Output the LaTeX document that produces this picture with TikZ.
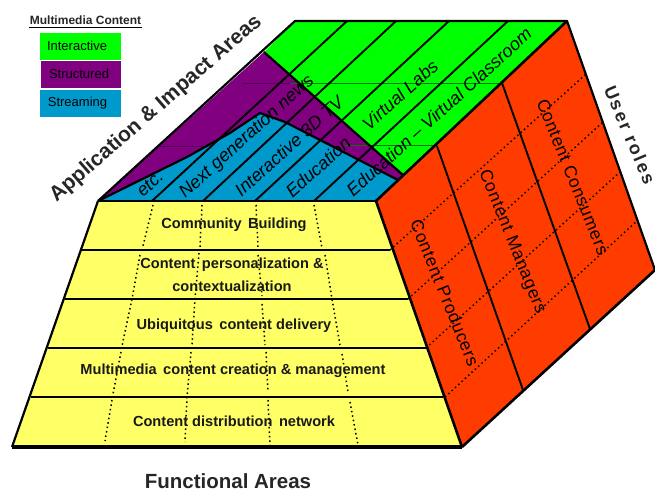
\documentclass[tikz,border=0pt]{standalone}
\usepackage{fontspec}
\setmainfont{Liberation Sans}
\definecolor{cyel}{HTML}{FFFF66}
\definecolor{cgrn}{HTML}{00FF00}
\definecolor{cpur}{HTML}{800080}
\definecolor{cblu}{HTML}{0099CC}
\definecolor{cred}{HTML}{FF3C00}
\tikzset{
  edgeline/.style={draw=black,line width=2.2pt,line join=round},
  thinsolid/.style={draw=black,line width=1.9pt},
  dotline/.style={draw=black,line width=1.5pt,dash pattern=on 1.5pt off 3pt},
  bandtext/.style={font=\bfseries\fontsize{14.6}{14.6}\selectfont,text=black!90,inner sep=0pt},
  diagtext/.style={font=\itshape\fontsize{18}{18}\selectfont,rotate=42,inner sep=0pt},
  roletext/.style={font=\fontsize{17.5}{17.5}\addfontfeatures{LetterSpace=4}\selectfont,rotate=-68,inner sep=0pt},
  titletext/.style={font=\bfseries\fontsize{20.5}{20.5}\selectfont,text=black!85,inner sep=0pt},
  legtext/.style={font=\fontsize{13}{13}\selectfont,inner sep=0pt},
}
\begin{document}
\begin{tikzpicture}[x=1pt,y=-1pt]
\useasboundingbox (0,0) rectangle (655,492);
% corners
\coordinate (YTL) at (98,201); \coordinate (YTR) at (376,201);
\coordinate (YBL) at (12,447); \coordinate (YBR) at (462,447);
\coordinate (RTR) at (567,21); \coordinate (RBR) at (655,270);
\coordinate (GTL) at (295,21); \coordinate (PT) at (264,52);
\coordinate (PR) at (403,175);
% faces
\fill[cpur] (YTL) -- (PT) -- (PR) -- (YTR) -- cycle;
\fill[cgrn] (GTL) -- (RTR) -- (PR) -- (PT) -- cycle;
\fill[cblu] (YTL) -- (187,157) -- (230,133) -- (260,113) -- (285,122) -- (398,180) -- (YTR) -- cycle;
\fill[cyel] (YTL) -- (YTR) -- (YBR) -- (YBL) -- cycle;
\fill[cred] (YTR) -- (RTR) -- (RBR) -- (YBR) -- cycle;
% faint horizontal seams
\draw[black!55!cgrn,line width=.6pt] (290,83) -- (502,83);
\draw[black!55!cgrn,line width=.6pt] (345,145) -- (437,145);
\draw[black!35!cpur,line width=.6pt] (243,83) -- (290,83);
\draw[black!35!cpur,line width=.6pt] (160,146) -- (205,146);
% top edges
\draw[edgeline] (PT) -- (PR);
\draw[edgeline] (YTL) -- (187,157) -- (230,133) -- (260,113) -- (285,122) -- (398,180);
% diagonals
\foreach \a/\b/\n in {152/347/a,203/396/b,255/449/c,314/508/d}{
  \coordinate (dl\n) at (\a,201); \coordinate (dt\n) at (\b,21);
  \draw[thinsolid] (dl\n) -- (dt\n);
}
\draw[edgeline] (YTL) -- (GTL) -- (RTR) -- (RBR);
% red face grid
\foreach \a/\b/\c/\d in {390/250/585/75,408/299/603/122,426/348/620/172,445/397/638/220}{
  \draw[dotline] (\a,\b) -- (\c,\d);
}
\draw[thinsolid] (437,146) -- (523,390);
\draw[thinsolid] (502,83) -- (590,329);
% yellow bands
\foreach \a/\b/\y in {81/390/250,65/408/299,48/426/348,31/443/397}{
  \draw[line width=2.4pt] (\a,\y) -- (\b,\y);
}
% dotted columns on yellow
\draw[dotline] (153,205) -- (143,246);
\draw[dotline] (140,255) -- (132,299) -- (122,346);
\draw[dotline] (121,352) -- (113,394);
\draw[dotline] (112,400) -- (105,441);
\draw[dotline] (202,205) -- (200,247);
\draw[dotline] (199,253) -- (195,299) -- (192,345);
\draw[dotline] (191,352) -- (187,397) -- (185,442);
\draw[dotline] (256,205) -- (258,247);
\draw[dotline] (258,255) -- (262,296);
\draw[dotline] (262,304) -- (265,345);
\draw[dotline] (266,352) -- (268,392);
\draw[dotline] (268,400) -- (270,445);
\draw[dotline] (314,205) -- (322,248);
\draw[dotline] (325,255) -- (332,299) -- (340,345);
\draw[dotline] (342,354) -- (348,392);
\draw[dotline] (350,402) -- (358,445);
% outlines
\draw[line width=2.8pt] (YTL) -- (YTR);
\draw[edgeline] (YTL) -- (YBL);
\draw[line width=4pt] (YBL) -- (YBR);
\draw[edgeline,line width=2.6pt] (YBR) -- (YTR) -- (RTR);
\draw[edgeline,line width=2.6pt] (YBR) -- (RBR);
% texts on yellow
\node[bandtext] (t1) at (234,224.5) {Community\, Building};
\node[bandtext] (t2) at (232,265) {Content\, personalization \&};
\node[bandtext] (t3) at (232,286) {contextualization};
\node[bandtext] (t4) at (234,325.5) {Ubiquitous\, content delivery};
\node[bandtext] (t5) at (233,371) {Multimedia\, content creation \& management};
\node[bandtext] (t6) at (234,421) {Content distribution\, network};
% texts on top
\node[diagtext] (d1) at (150,184) {etc.};
\node[diagtext] (d2) at (247,137) {Next generation news};
\node[diagtext] (d3) at (289,146) {Interactive 3D TV};
\node[diagtext] (d4) at (318,167) {Education};
\node[diagtext] (d5) at (400,95) {Virtual Labs};
\node[diagtext] (d6) at (439,112) {Education -- Virtual Classroom};
% texts on red
\node[roletext] (r1) at (445,293) {Content Producers};
\node[roletext] (r2) at (512,242) {Content Managers};
\node[roletext] (r3) at (573,177) {Content Consumers};
% titles
\node[titletext,font=\bfseries\fontsize{21}{21}\selectfont,rotate=41] (ta) at (156,109) {Application \& Impact Areas};
\node[titletext] (tb) at (228,481) {Functional Areas};
\node[titletext,font=\bfseries\fontsize{18}{18}\addfontfeatures{LetterSpace=12}\selectfont,rotate=-67] (tc) at (630,135) {User roles};
% legend
\node[font=\bfseries\fontsize{12}{12}\selectfont,inner sep=0pt,text=black!85] (lt) at (85.5,20) {Multimedia Content};
\coordinate (lua) at (29,27.5); \coordinate (lub) at (142,27.5);
\draw[line width=1.8pt] (lua) -- (lub);
\fill[cgrn] (40,33) rectangle (121,60);
\fill[cpur] (41,61) rectangle (121,88);
\fill[cblu] (40,90) rectangle (121,117);
\node[legtext] (l1) at (77,46) {Interactive};
\node[legtext] (l2) at (79,74) {Structured};
\node[legtext] (l3) at (77.5,103) {Streaming};
\end{tikzpicture}
\end{document}
